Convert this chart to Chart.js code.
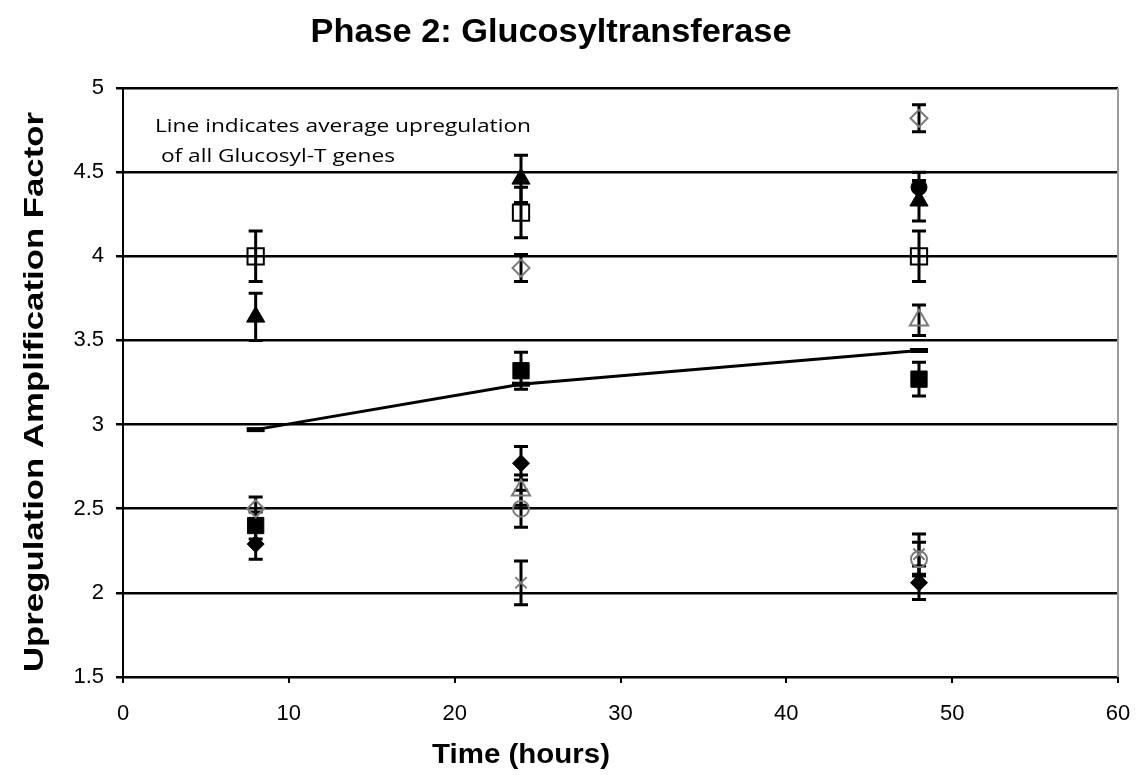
<!DOCTYPE html>
<html><head><meta charset="utf-8">
<script src="https://cdn.jsdelivr.net/npm/chart.js@4.4.1/dist/chart.umd.min.js"></script>
<style>html,body{margin:0;padding:0;background:#fff}#wrap{width:1136px;height:775px;position:relative}</style>
</head><body><div id="wrap"><canvas id="c" width="1136" height="775"></canvas></div>
<script>
// ---- data ----
const times = [8, 24, 48];
const xTickValues = [0, 10, 20, 30, 40, 50, 60];
const yTickValues = [1.5, 2, 2.5, 3, 3.5, 4, 4.5, 5];

const openSquareVals   = [4.00, 4.26, 4.00];
const openSquareErr    = [0.15, 0.15, 0.15];
const filledTriVals    = [3.64, 4.46, 4.33];
const filledTriErr     = [0.14, 0.14, 0.12];
const openDiamondVals  = [2.50, 3.93, 4.82];
const openDiamondErr   = [0.07, 0.08, 0.08];
const filledSquareVals = [2.40, 3.32, 3.27];
const filledSquareErr  = [0.08, 0.11, 0.10];
const filledDiamondVals= [2.29, 2.77, 2.06];
const filledDiamondErr = [0.09, 0.10, 0.10];
const grayTriVals      = [null, 2.61, 3.62];
const grayTriErr       = [null, 0.09, 0.09];
const openCircleVals   = [null, 2.50, 2.20];
const openCircleErr    = [null, 0.11, 0.10];
const crossVals        = [null, 2.06, 2.23];
const crossErr         = [null, 0.13, 0.12];
const filledCircleVals = [null, null, 4.41];
const filledCircleErr  = [null, null, 0.09];
const averageVals      = [2.97, 3.24, 3.44];

const chartTitle = 'Phase 2: Glucosyltransferase';
const xTitle = 'Time (hours)';
const yTitle = 'Upregulation Amplification Factor';
const noteLines = ['Line indicates average upregulation', ' of all Glucosyl-T genes'];

// ---- build ----
function pts(vals, errs) {
  const out = [];
  times.forEach((t, i) => { if (vals[i] != null) out.push({x: t, y: vals[i], e: errs ? errs[i] : null}); });
  return out;
}
const T = 'rgba(0,0,0,0)';
const G = '#7a7a7a';
function series(label, vals, errs, style, radius, fill, stroke, bw) {
  return { label, data: pts(vals, errs), showLine: false, pointStyle: style, pointRadius: radius,
    pointHoverRadius: radius, backgroundColor: fill, borderColor: stroke, pointBorderWidth: bw || 2 };
}
const datasets = [
  { label: 'Average', data: pts(averageVals), showLine: true, borderColor: '#000', borderWidth: 3,
    tension: 0, pointStyle: 'line', pointRadius: 9, pointBorderWidth: 5, pointBorderColor: '#000', backgroundColor: '#000' },
  series('Gene 1', openSquareVals, openSquareErr, 'rect', 11.5, T, '#000', 2),
  series('Gene 2', filledTriVals, filledTriErr, 'triangle', 10.5, '#000', '#000', 1),
  series('Gene 3', openDiamondVals, openDiamondErr, 'rectRot', 8.5, T, G, 2),
  series('Gene 4', filledSquareVals, filledSquareErr, 'rect', 11.5, '#000', '#000', 1),
  series('Gene 5', filledDiamondVals, filledDiamondErr, 'rectRot', 8.5, '#000', '#000', 1),
  series('Gene 6', grayTriVals, grayTriErr, 'triangle', 10.5, T, G, 2),
  series('Gene 7', openCircleVals, openCircleErr, 'circle', 8, T, G, 2),
  series('Gene 8', crossVals, crossErr, 'crossRot', 8, T, G, 2),
  series('Gene 9', filledCircleVals, filledCircleErr, 'circle', 8, '#000', '#000', 1)
];

const errorBars = {
  id: 'errorBars',
  beforeDatasetsDraw(chart) {
    const {ctx, scales: {x, y}, chartArea} = chart;
    ctx.save();
    ctx.strokeStyle = '#9a9a9a'; ctx.lineWidth = 2;
    ctx.beginPath(); ctx.moveTo(chartArea.right, chartArea.top); ctx.lineTo(chartArea.right, chartArea.bottom); ctx.stroke();
    chart.data.datasets.forEach(ds => {
      ds.data.forEach(p => {
        if (p.e == null) return;
        const px = x.getPixelForValue(p.x);
        const top = y.getPixelForValue(p.y + p.e), bot = y.getPixelForValue(p.y - p.e);
        ctx.strokeStyle = '#000'; ctx.lineWidth = 3;
        ctx.beginPath();
        ctx.moveTo(px, top); ctx.lineTo(px, bot);
        ctx.moveTo(px - 7, top); ctx.lineTo(px + 7, top);
        ctx.moveTo(px - 7, bot); ctx.lineTo(px + 7, bot);
        ctx.stroke();
      });
    });
    ctx.restore();
  }
};

function fitText(ctx, text, x, y, targetW, font, rot) {
  ctx.save();
  ctx.font = font;
  const w = ctx.measureText(text).width;
  ctx.translate(x, y);
  if (rot) ctx.rotate(rot);
  ctx.scale(targetW / w, 1);
  ctx.textAlign = 'center';
  ctx.textBaseline = 'middle';
  ctx.fillStyle = '#000';
  ctx.fillText(text, 0, 0);
  ctx.restore();
}

const texts = {
  id: 'texts',
  afterDraw(chart) {
    const {ctx, chartArea} = chart;
    const SANS = '"Liberation Sans", Arial, sans-serif';
    fitText(ctx, chartTitle, 551, 33, 481, 'bold 33px ' + SANS);
    fitText(ctx, xTitle, 521, 756, 178, 'bold 27px ' + SANS);
    fitText(ctx, yTitle, 36, 392, 560, 'bold 27px ' + SANS, -Math.PI / 2);
    // note
    ctx.save();
    const nf = '19px "Open Sans", Lato, sans-serif';
    ctx.font = nf;
    const k = 376 / ctx.measureText(noteLines[0]).width;
    ctx.restore();
    [[noteLines[0], 155, 132], [noteLines[1], 155, 162]].forEach(([t, x, y]) => {
      ctx.save(); ctx.font = nf; ctx.translate(x, y); ctx.scale(k, 1);
      ctx.fillStyle = '#000'; ctx.textAlign = 'left'; ctx.textBaseline = 'alphabetic';
      ctx.fillText(t, 0, 0); ctx.restore();
    });
  }
};

const tickFont = {family: '"Liberation Sans", Arial, sans-serif', size: 22};
new Chart(document.getElementById('c'), {
  type: 'scatter',
  data: { datasets },
  plugins: [errorBars, texts],
  options: {
    responsive: false, animation: false, devicePixelRatio: 1,
    layout: { padding: { top: 88, right: 18, left: 0, bottom: 0 } },
    plugins: { legend: { display: false }, tooltip: { enabled: false }, title: { display: false } },
    scales: {
      x: {
        type: 'linear', min: 0, max: 60,
        afterBuildTicks: s => { s.ticks = xTickValues.map(v => ({value: v})); },
        afterFit: s => { s.height = 98; s.paddingLeft = 0; s.paddingRight = 0; },
        grid: { drawOnChartArea: false, drawTicks: true, tickLength: 6, color: '#000', lineWidth: 2 },
        border: { color: '#000', width: 2 },
        ticks: { color: '#000', font: tickFont, padding: 18, maxRotation: 0 }
      },
      y: {
        min: 1.5, max: 5,
        afterBuildTicks: s => { s.ticks = yTickValues.map(v => ({value: v})); },
        afterFit: s => { s.width = 123; s.paddingTop = 0; s.paddingBottom = 0; },
        grid: { color: '#000', lineWidth: 2.5, tickLength: 7, drawTicks: true },
        border: { color: '#000', width: 2 },
        ticks: { color: '#000', font: tickFont, padding: 12, callback: v => String(v) }
      }
    }
  }
});
</script></body></html>
